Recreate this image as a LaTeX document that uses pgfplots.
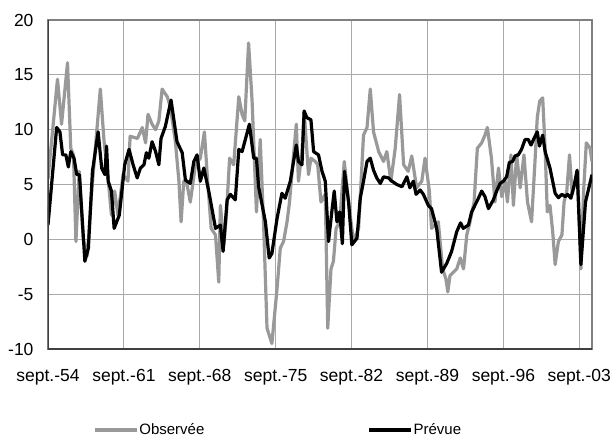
\documentclass[border=0pt]{standalone}
\usepackage{pgfplots}
\pgfplotsset{compat=1.18}
\usepackage{fontspec}
\setmainfont{Liberation Sans}
\definecolor{obsgray}{RGB}{153,153,153}
\definecolor{gridgray}{RGB}{170,170,170}
\definecolor{axisdark}{RGB}{64,64,64}
\begin{document}
\begin{tikzpicture}
\useasboundingbox (-48pt,-90pt) rectangle (564pt,349pt);
\begin{axis}[
  scale only axis,
  width=544pt, height=329pt,
  xmin=0, xmax=200.7,
  ymin=-10, ymax=20,
  ytick={-10,-5,0,5,10,15,20},
  xtick={0,28,56,84,112,140,168,196},
  xticklabels={sept.-54,sept.-61,sept.-68,sept.-75,sept.-82,sept.-89,sept.-96,sept.-03},
  /pgf/number format/assume math mode=true,
  tick label style={font=\fontsize{17.5}{20}\selectfont},
  yticklabel style={xshift=-11pt},
  xticklabel style={yshift=-17pt},
  major tick length=0pt,
  grid=major,
  major grid style={draw=gridgray, line width=1pt},
  axis line style={draw=gray, line width=1.2pt},
  clip=true,
  legend columns=2,
  legend style={draw=none, fill=none, inner sep=0pt,
    at={(0.0827,-0.246)}, anchor=west,
    font=\fontsize{15}{17}\selectfont,
    /tikz/every even column/.append style={column sep=162pt},
    nodes={inner sep=1pt}},
  legend image code/.code={\draw[#1] (0pt,0pt) -- (42pt,0pt);},
]
\addplot[color=obsgray, line width=3.2pt, line join=round] coordinates {
(0,5.5)(3.5,14.6)(5,10.5)(7.2,16.1)(8.4,8.3)(9.4,7.7)(10.3,-0.2)(11.5,6.2)
(13,0.0)(14.5,-1.5)(16,4.0)(19.3,13.7)(20.7,8.9)(22.2,5.5)(23.4,2.2)(24.6,4.4)
(25.8,2.2)(27.7,5.9)(29.5,5.3)(30.3,9.4)(33,9.2)(34.8,10.2)(36,8.8)(36.9,11.4)
(38.4,10.5)(39.7,10.0)(40.9,10.8)(42.1,13.7)(44,13.0)(45.2,12.0)(47,8.9)(48.3,5.3)
(49.1,1.6)(50.1,5.3)(51.3,5.0)(52.5,3.4)(54.4,6.8)(56.2,7.4)(57.7,9.8)(58.9,5.3)
(60.2,1.0)(61.8,0.4)(63,-3.9)(63.6,3.1)(64.9,-0.5)(65.8,2.2)(67,7.4)(68.5,6.8)
(70.4,13.0)(71.6,11.4)(72.6,10.8)(74,17.9)(75.3,12.6)(76.9,2.5)(78.3,9.1)(79.6,1.0)
(80.8,-8.1)(82.6,-9.5)(84.5,-4.5)(85.7,-0.8)(86.9,-0.2)(88.2,1.6)(89.1,3.4)(90.6,7.7)
(91.6,10.5)(92.4,5.3)(93.7,8.0)(94.5,11.7)(96.1,5.9)(97,7.4)(98.6,7.1)(99.5,6.8)
(100.7,3.4)(102.3,4.1)(103.2,-8.1)(104.4,-2.7)(105.3,-2.0)(106.3,1.0)(107.6,1.6)(109.3,7.1)
(110.9,3.4)(112.7,-0.2)(114.6,1.0)(116.4,9.5)(117.7,10.2)(118.9,13.7)(120.1,9.8)(122,8.0)
(123.8,7.1)(125,8.0)(126.5,5.3)(128.1,8.3)(129.7,13.2)(131.2,6.8)(132.9,6.2)(134.2,7.6)
(136,4.7)(137.9,5.3)(139.1,7.4)(140.7,4.4)(141.5,1.0)(142.8,1.3)(144,1.6)(145.6,-2.7)
(146.8,-3.6)(147.5,-4.8)(148.3,-3.3)(149.6,-3.0)(150.8,-2.7)(152.1,-1.7)(153.3,-2.7)(154.5,0.4)
(155.7,1.6)(157.2,3.4)(158.4,8.3)(160,8.8)(161.2,9.5)(162.1,10.2)(163.6,7.4)(164.9,3.4)
(166.2,6.5)(167.4,3.9)(168.7,5.3)(169.5,3.4)(170.8,7.7)(171.7,3.1)(172.9,7.7)(174.2,4.7)
(175.6,7.7)(176.9,3.4)(178.4,1.6)(179.6,6.8)(180.5,11.1)(181.4,12.6)(182.5,12.9)(183.4,8.3)
(184.2,2.5)(185.2,3.1)(186.2,0.7)(187.1,-2.3)(188.3,-0.2)(189.6,0.4)(190.4,3.4)(191.4,4.4)
(192.4,7.7)(193.4,4.1)(194.5,5.3)(195.4,6.2)(196.6,-2.7)(197.6,4.4)(198.6,8.8)(200,8.3)
(200.7,7.1)
};
\addlegendentry{Observée}
\addplot[color=black, line width=3.2pt, line join=round] coordinates {
(0,1.3)(3.2,10.2)(4.4,9.8)(5.4,7.7)(6.6,7.7)(7.5,6.6)(8.4,8.0)(9.6,7.4)
(10.6,5.9)(11.6,5.9)(13.6,-2.0)(14.9,-0.8)(16.4,6.2)(18.5,9.8)(19.8,6.5)(21,5.9)
(21.6,8.5)(22.2,5.3)(23.4,4.4)(24.4,1.0)(26.3,2.2)(28.3,6.8)(29.9,8.2)(31.4,6.8)
(32.9,5.6)(34.1,6.5)(35.4,6.8)(36.3,7.9)(37.2,7.4)(38.4,8.9)(39.7,8.0)(40.9,6.8)
(41.7,9.2)(43.3,10.3)(45.4,12.7)(47.6,8.9)(49.5,7.9)(50.7,5.4)(52.5,5.1)(53.8,7.1)
(55,7.7)(56.2,5.3)(57.5,6.5)(59.3,4.4)(61.8,1.0)(63.6,1.3)(64.6,-1.1)(66.1,3.6)
(67.3,4.1)(69.1,3.6)(70.4,8.2)(71.6,8.0)(72.8,9.1)(74.3,10.5)(75.9,7.4)(76.9,7.4)
(77.7,4.8)(80.2,1.6)(81.6,-1.7)(82.6,-1.3)(84.5,1.9)(86.3,4.2)(87.5,3.75)(89.4,5.3)
(90.6,7.1)(91.6,8.6)(92.4,7.1)(93.7,6.8)(94.5,11.7)(95.5,11.1)(97,10.9)(98,8.0)
(99.8,7.7)(101.1,6.2)(102.3,5.3)(103.5,-0.2)(104.7,2.5)(105.6,4.4)(106.6,1.6)(107.6,2.5)
(108.6,-0.4)(109.4,6.2)(110.9,3.4)(112.1,-0.5)(114,0.1)(115.2,3.75)(116.4,5.3)(117.7,7.1)
(118.9,7.4)(120.1,6.3)(121.3,5.6)(122.6,5.1)(123.8,5.7)(125.6,5.6)(126.9,5.3)(128.7,5.0)
(130.6,4.8)(132.4,5.7)(133.5,4.7)(134.8,5.3)(135.8,4.1)(137.3,4.5)(138.5,4.1)(140.3,3.1)
(141.5,2.8)(143.4,1.0)(145.2,-3.0)(147.1,-2.2)(148.9,-1.1)(150.8,0.7)(152.2,1.5)(153.2,1.0)
(155.1,1.3)(156.3,2.5)(157.5,3.1)(158.8,3.75)(160,4.4)(161.2,3.9)(162.5,2.8)(164.3,3.6)
(165.5,4.4)(166.8,5.1)(168,5.3)(169.2,5.7)(170.2,7.0)(171.4,7.1)(172.3,7.6)(173.5,7.7)
(174.7,8.2)(176,9.1)(177.2,9.1)(178.2,8.6)(179.3,9.2)(180.5,9.8)(181.3,8.5)(182.5,9.5)
(183.4,8.0)(185.2,6.5)(187.1,4.2)(188.3,3.8)(189.6,4.1)(190.8,3.9)(191.7,4.1)(192.9,3.75)
(194.2,5.0)(195.2,6.3)(196.6,-2.3)(198.3,3.4)(200.7,5.9)
};
\addlegendentry{Prévue}
\draw[axisdark, line width=2pt] (rel axis cs:0,1) -- (rel axis cs:0,0) -- (rel axis cs:1,0);
\end{axis}
\end{tikzpicture}
\end{document}
